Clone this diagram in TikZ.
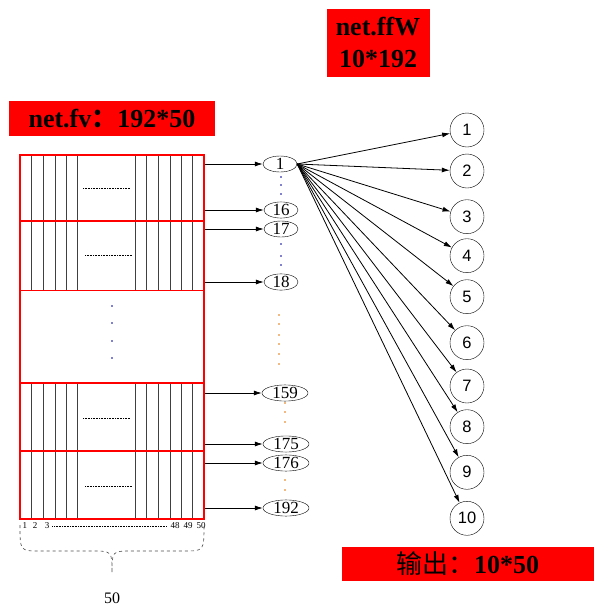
\documentclass[tikz,border=0pt]{standalone}
\usepackage{fontspec}
\setmainfont{Liberation Serif}
\newfontfamily\cjk{Noto Sans CJK SC}
\newfontfamily\numfont{Liberation Sans}
\usetikzlibrary{shapes.geometric,arrows.meta}
\begin{document}
\begin{tikzpicture}[x=1pt,y=-1pt,>={Latex[length=8pt,width=5pt]},
    hid/.style={ellipse, draw, minimum width=34pt, minimum height=16pt, inner sep=0pt, font=\fontsize{17}{17}\selectfont},
    hidw/.style={hid, minimum width=46pt},
    outn/.style={circle, draw, minimum size=34pt, inner sep=0pt, font=\numfont\fontsize{16.5}{16.5}\selectfont},
    tag/.style={fill=red, inner sep=0pt, align=center, font=\bfseries\fontsize{26}{32}\selectfont},
    col/.style={black!75, line width=1pt},
    arr/.style={->, line width=0.8pt}]
  \useasboundingbox (0,0) rectangle (600,616);
  \node[tag, minimum width=206pt, minimum height=35pt] (fv) at (112,118.5) {net.fv{\cjk ：}192*50};
  \node[tag, minimum width=103pt, minimum height=68pt] (ffw) at (378,42.5) {net.ffW\\10*192};
  \node[tag, minimum width=252pt, minimum height=34pt] (res) at (467.5,564) {{\cjk\mdseries 输出：}10*50};
  \foreach \a/\b in {155/221,221/290.5,383/451,451/519}{
    \foreach \x in {31.7,43.3,55,66.7,77.7,135,146.7,158.3,170,181.7,192.7}
      \draw[col] (\x,\a) -- (\x,\b);
  }
  \node[draw=red, line width=1.5pt, minimum width=184pt, minimum height=364pt, inner sep=0pt] (grid) at (112,337) {};
  \foreach \y in {221,290.5,383,451}
    \draw[red, line width=1.5pt] (20,\y) -- (204,\y);
  \foreach \y/\l in {188/83,255/85,418/83,486/85}
    \draw[densely dotted, line width=0.6pt] (\l,\y) -- (\l+47,\y);
  \foreach \y in {306,323,341,358}
    \fill[blue!60!black] (112,\y) circle (0.8);
  \node[hid] (h1) at (280,164) {1};
  \node[hid] (h16) at (281,210) {16};
  \node[hid] (h17) at (281,229) {17};
  \node[hid] (h18) at (281,282) {18};
  \node[hidw] (h159) at (285,393) {159};
  \node[hidw] (h175) at (286,444) {175};
  \node[hidw] (h176) at (286,463) {176};
  \node[hidw] (h192) at (286,508) {192};
  \foreach \n in {1,16,17,18,159,175,176,192}
    \draw[arr] (h\n.west -| grid.east) -- (h\n.west);
  \foreach \y in {177,185,194,244,256,265}
    \fill[blue!60!black] (281,\y) circle (0.8);
  \foreach \x/\y in {279/315,279/324,279/335,279/344,279/354,279/364,285/403,285/412,285/422,285/480,285/490}
    \fill[orange!90!black] (\x,\y) circle (0.8);
  \foreach \i/\y in {1/130,2/171,3/216.7,4/255.7,5/296.7,6/342.7,7/386,8/426.7,9/472.3,10/518.3}{
    \node[outn] (o\i) at (467,\y) {\i};
    \draw[arr] (h1.east) -- (o\i);
  }
  \foreach \x/\t in {25/1,35/2,47/3,175/48,188/49,201/50}
    \node[font=\fontsize{9}{9}\selectfont, inner sep=0pt] (c\t) at (\x,526) {\t};
  \draw[densely dotted, line width=0.6pt] (c3.east) ++(3,0) -- ([xshift=-3pt]c48.west);
  \draw[dashed, black!70, line width=0.6pt] (20,525) .. controls (20,551) .. (40,551) -- (92,551) .. controls (112,551) .. (112,573) .. controls (112,551) .. (132,551) -- (184,551) .. controls (204,551) .. (204,525);
  \node[font=\fontsize{16}{16}\selectfont] (n50) at (112,598) {50};
\end{tikzpicture}
\end{document}
